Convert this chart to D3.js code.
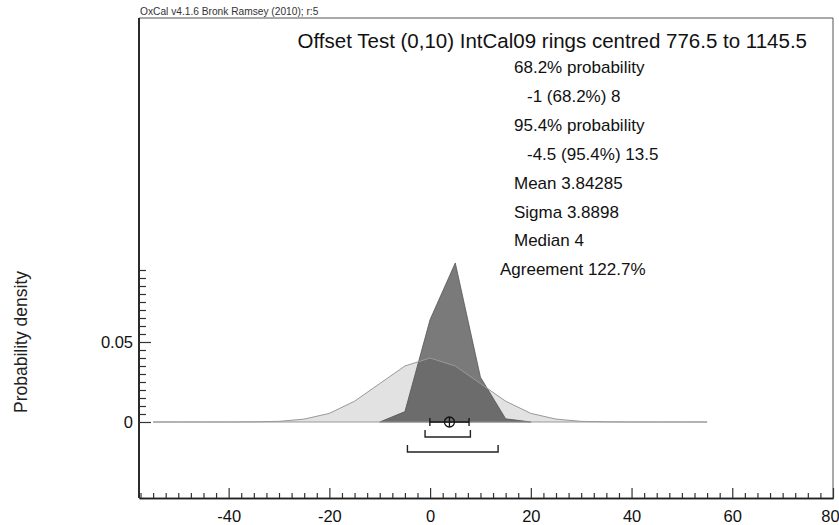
<!DOCTYPE html>
<html><head><meta charset="utf-8">
<script src="https://cdn.jsdelivr.net/npm/d3@7"></script>
<style>
body{margin:0;background:#fff;}
svg{display:block;font-family:"Liberation Sans",Arial,sans-serif;}
</style></head>
<body><svg id="c" width="839" height="525"></svg>
<script>
// ---- data ----
const priorX = [-55,-50,-45,-40,-35,-30,-25,-20,-15,-10,-5,0,5,10,15,20,25,30,35,40,45,50,55];
const priorY = [0,0,0,0,0.0001,0.0004,0.0018,0.0054,0.013,0.024,0.035,0.040,0.035,0.024,0.013,0.0054,0.0018,0.0004,0.0001,0,0,0,0];
const postX = [-10,-5,0,5,10,15,20];
const postY = [0,0.0065,0.064,0.0994,0.028,0.002,0];
const mean = 3.84285, sigma = 3.8898;
const range68 = [-1, 8];
const range95 = [-4.5, 13.5];
const xMajor = [-40,-20,0,20,40,60,80];
const xTickLabels = ["-40","-20","0","20","40","60","80"];
const yMajor = [0, 0.05];
const yTickLabels = ["0","0.05"];
const header = "OxCal v4.1.6 Bronk Ramsey (2010); r:5";
const title = "Offset Test (0,10) IntCal09 rings centred 776.5 to 1145.5";
const statLines = [
  {t:"68.2% probability", indent:1},
  {t:"-1 (68.2%) 8", indent:2},
  {t:"95.4% probability", indent:1},
  {t:"-4.5 (95.4%) 13.5", indent:2},
  {t:"Mean 3.84285", indent:1},
  {t:"Sigma 3.8898", indent:1},
  {t:"Median 4", indent:1},
  {t:"Agreement 122.7%", indent:0}
];
const yLabel = "Probability density";

// ---- layout ----
const L=139, R=833, T=18, B=498;
const svg = d3.select("#c");
const x = d3.scaleLinear().domain([-57.8, 80]).range([L, R]);
const y = d3.scaleLinear().domain([-0.0475, 0.2525]).range([B, T]);

svg.append("clipPath").attr("id","clip").append("rect").attr("x",L).attr("y",T).attr("width",R-L).attr("height",B-T);
const g = svg.append("g").attr("clip-path","url(#clip)");

const area = d3.area().x(d=>x(d[0])).y0(y(0)).y1(d=>y(d[1]));
const line = d3.line().x(d=>x(d[0])).y(d=>y(d[1]));
const prior = priorX.map((v,i)=>[v,priorY[i]]);
const post = postX.map((v,i)=>[v,postY[i]]);

g.append("path").attr("d",area(prior)).attr("fill","#e2e2e2").attr("stroke","none");
g.append("path").attr("d",area(post)).attr("fill","#000").attr("fill-opacity",0.52).attr("stroke","#555").attr("stroke-width",0.8);
g.append("path").attr("d",line(prior)+"Z").attr("fill","none").attr("stroke","#999").attr("stroke-width",1);

// mean +/- sigma marker
const y0 = y(0);
const mk = svg.append("g").attr("stroke","#111").attr("stroke-width",1.3).attr("fill","none");
mk.append("line").attr("x1",x(mean-sigma)).attr("x2",x(mean+sigma)).attr("y1",y0).attr("y2",y0);
[mean-sigma, mean+sigma].forEach(v=>mk.append("line").attr("x1",x(v)).attr("x2",x(v)).attr("y1",y0-4).attr("y2",y0+4));
mk.append("circle").attr("cx",x(mean)).attr("cy",y0).attr("r",5);
mk.append("line").attr("x1",x(mean)).attr("x2",x(mean)).attr("y1",y0-5).attr("y2",y0+5);

// range brackets
function bracket(r, yy){
  const p = d3.path();
  p.moveTo(x(r[0]), yy-7); p.lineTo(x(r[0]), yy); p.lineTo(x(r[1]), yy); p.lineTo(x(r[1]), yy-7);
  svg.append("path").attr("d",p.toString()).attr("fill","none").attr("stroke","#222").attr("stroke-width",1.4);
}
bracket(range68, 437);
bracket(range95, 452);

// frame
svg.append("line").attr("x1",L).attr("x2",R).attr("y1",T).attr("y2",T).attr("stroke","#555").attr("stroke-width",1);
svg.append("line").attr("x1",R).attr("x2",R).attr("y1",T).attr("y2",B).attr("stroke","#555").attr("stroke-width",1);

// x axis (separate groups for minor and major ticks)
const xMinor = d3.range(-57.5, 80.01, 2.5).filter(v=>!xMajor.includes(v));
const xaMinor = svg.append("g").attr("transform",`translate(0,${B})`)
  .call(d3.axisBottom(x).tickValues(xMinor).tickSize(-5).tickSizeOuter(0).tickFormat(""));
const xa = svg.append("g").attr("transform",`translate(0,${B})`)
  .call(d3.axisBottom(x).tickValues(xMajor).tickSize(-10).tickSizeOuter(0).tickPadding(12).tickFormat((d,i)=>xTickLabels[i]));
[xaMinor, xa].forEach(a=>{
  a.selectAll(".domain").attr("stroke","#222").attr("stroke-width",1.6);
  a.selectAll(".tick line").attr("stroke","#333").attr("stroke-width",1.2);
});
xa.selectAll("text").attr("font-size",16.5).attr("fill","#111").attr("font-family","Liberation Sans, Arial, sans-serif");
xa.selectAll("text").filter((d,i)=>i===xMajor.length-1).attr("dx",-3);

// y axis
const yMinor = d3.range(1,20).map(i=>i*0.005).filter(v=>Math.abs(v-0.05)>1e-9);
const yaMinor = svg.append("g").attr("transform",`translate(${L},0)`)
  .call(d3.axisLeft(y).tickValues(yMinor).tickSize(-7).tickSizeOuter(0).tickFormat(""));
const ya = svg.append("g").attr("transform",`translate(${L},0)`)
  .call(d3.axisLeft(y).tickValues(yMajor).tickSize(-12).tickPadding(6).tickSizeOuter(0).tickFormat((d,i)=>yTickLabels[i]));
[yaMinor, ya].forEach(a=>{
  a.select(".domain").attr("d",`M0,${T}V${B}`).attr("stroke","#222").attr("stroke-width",1.6);
  a.selectAll(".tick line").attr("stroke","#333").attr("stroke-width",1.2);
});
ya.selectAll("text").attr("font-size",16.5).attr("fill","#111").attr("font-family","Liberation Sans, Arial, sans-serif");

svg.append("text").attr("transform","translate(27,342) rotate(-90)").attr("text-anchor","middle")
  .attr("font-size",17.5).attr("fill","#222").text(yLabel);

// texts
svg.append("text").attr("x",L+1).attr("y",15).attr("font-size",10.2).attr("fill","#333").text(header);
svg.append("text").attr("x",807).attr("y",48).attr("text-anchor","end").attr("font-size",20.5).attr("fill","#111").text(title);
const indentX = [500, 514, 527];
statLines.forEach((s,i)=>{
  svg.append("text").attr("x",indentX[s.indent]).attr("y",73+i*28.9).attr("font-size",17).attr("fill","#111").text(s.t);
});
</script></body></html>
